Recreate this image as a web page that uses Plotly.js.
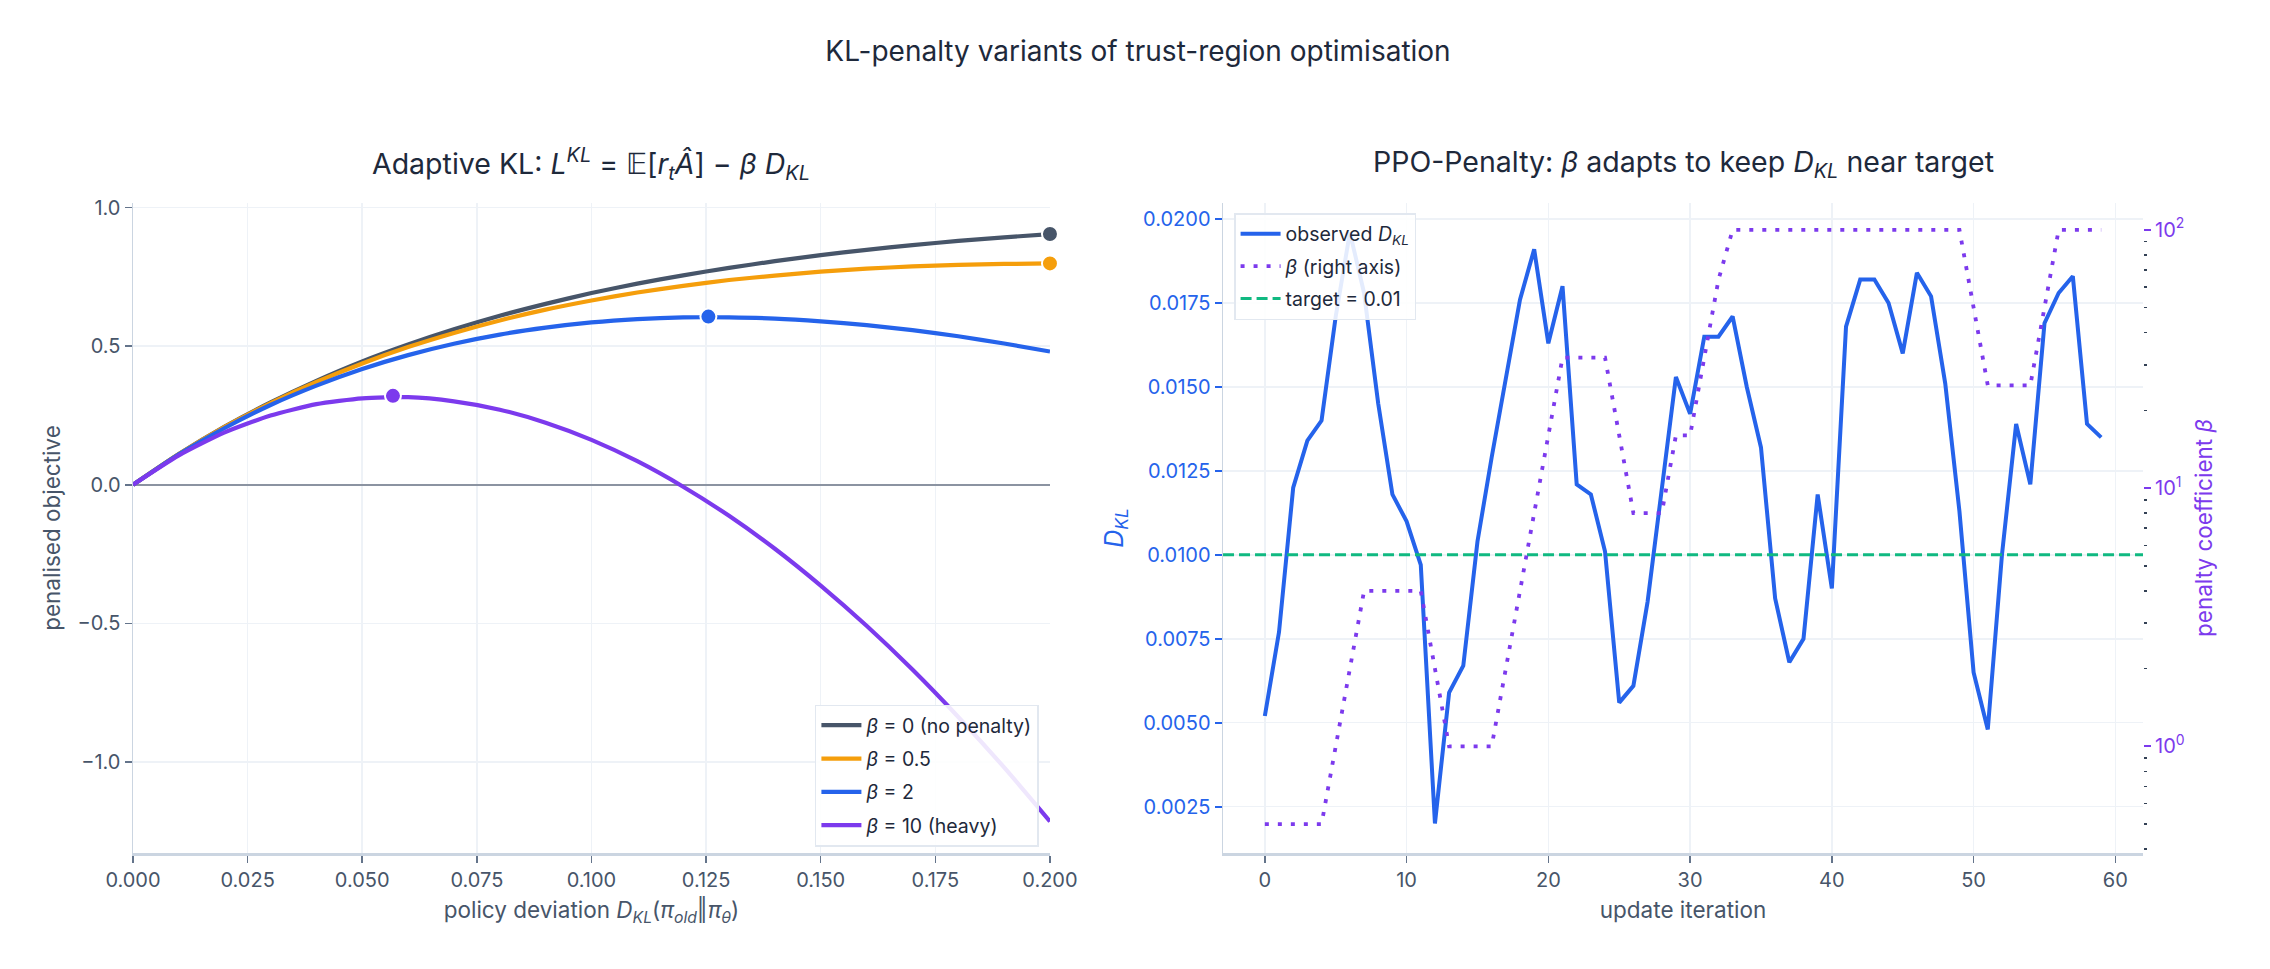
<!DOCTYPE html>
<html>
<head>
<meta charset="utf-8">
<script src="https://cdn.plot.ly/plotly-3.0.1.min.js"></script>
<style>html,body{margin:0;padding:0;background:#fff;}</style>
</head>
<body>
<div id="chart" style="width:2270px;height:969px;"></div>
<script>
// ---- Left panel: penalised objective vs policy deviation ----
const klDev = [0, 0.01, 0.02, 0.03, 0.04, 0.05, 0.06, 0.07, 0.08, 0.09, 0.10,
               0.11, 0.12, 0.13, 0.14, 0.15, 0.16, 0.17, 0.18, 0.19, 0.20];
const objBeta0  = [0, 0.111, 0.210, 0.297, 0.375, 0.445, 0.506, 0.561, 0.610, 0.653, 0.692,
                   0.726, 0.756, 0.783, 0.807, 0.829, 0.848, 0.865, 0.880, 0.893, 0.905];
const objBeta05 = [0, 0.111, 0.209, 0.295, 0.371, 0.438, 0.497, 0.548, 0.593, 0.632, 0.665,
                   0.694, 0.718, 0.739, 0.755, 0.769, 0.780, 0.788, 0.794, 0.797, 0.799];
const objBeta2  = [0, 0.110, 0.205, 0.288, 0.358, 0.418, 0.468, 0.509, 0.542, 0.567, 0.586,
                   0.598, 0.604, 0.604, 0.600, 0.590, 0.576, 0.558, 0.536, 0.510, 0.481];
const objBeta10 = [0, 0.106, 0.189, 0.250, 0.291, 0.312, 0.316, 0.301, 0.271, 0.224, 0.162,
                   0.085, -0.007, -0.112, -0.231, -0.364, -0.509, -0.667, -0.838, -1.020, -1.215];
const betaNames = ['<i>β</i> = 0 (no penalty)', '<i>β</i> = 0.5', '<i>β</i> = 2', '<i>β</i> = 10 (heavy)'];
const betaColors = ['#475569', '#f59e0b', '#2563eb', '#7c3aed'];
const peakX = [0.2, 0.2, 0.1255, 0.0567];
const peakY = [0.905, 0.799, 0.607, 0.321];

// ---- Right panel: PPO-Penalty adaptation ----
const iters = [0,1,2,3,4,5,6,7,8,9,10,11,12,13,14,15,16,17,18,19,20,21,22,23,24,25,26,27,28,29,
               30,31,32,33,34,35,36,37,38,39,40,41,42,43,44,45,46,47,48,49,50,51,52,53,54,55,56,57,58,59];
const observedKL = [0.0052, 0.0077, 0.0120, 0.0134, 0.0140, 0.0171, 0.0196, 0.0178, 0.0145, 0.0118,
                    0.0110, 0.0097, 0.0020, 0.0059, 0.0067, 0.0104, 0.0129, 0.0153, 0.0176, 0.0191,
                    0.0163, 0.0180, 0.0121, 0.0118, 0.0101, 0.0056, 0.0061, 0.0086, 0.0120, 0.0153,
                    0.0142, 0.0165, 0.0165, 0.0171, 0.0150, 0.0132, 0.0087, 0.0068, 0.0075, 0.0118,
                    0.0090, 0.0168, 0.0182, 0.0182, 0.0175, 0.0160, 0.0184, 0.0177, 0.0151, 0.0113,
                    0.0065, 0.0048, 0.0100, 0.0139, 0.0121, 0.0169, 0.0178, 0.0183, 0.0139, 0.0135];
const betaSeries = [0.5, 0.5, 0.5, 0.5, 0.5, 1, 2, 4, 4, 4,
                    4, 4, 2, 1, 1, 1, 1, 2, 4, 8,
                    16, 32, 32, 32, 32, 16, 8, 8, 8, 16,
                    16, 32, 64, 100, 100, 100, 100, 100, 100, 100,
                    100, 100, 100, 100, 100, 100, 100, 100, 100, 100,
                    50, 25, 25, 25, 25, 50, 100, 100, 100, 100];
const targetKL = 0.01;
const iterRange = [-2.95, 61.95];
const betaTicks = [1, 10, 100];
const betaTickText = ['10<sup>0</sup>', '10<sup>1</sup>', '10<sup>2</sup>'];

const FONT = 'Inter, "Liberation Sans", Arial, sans-serif';
const TXT = '#475569';
const GRID = '#eef2f7';
const AXLINE = '#cbd5e1';
const BLUE = '#2563eb', PURPLE = '#7c3aed', GREEN = '#10b981';

const traces = [];
const curves = [objBeta0, objBeta05, objBeta2, objBeta10];
curves.forEach((ys, i) => {
  traces.push({
    x: klDev, y: ys, type: 'scatter', mode: 'lines', name: betaNames[i],
    legendgroup: 'b' + i,
    line: {color: betaColors[i], width: 4.2, shape: 'spline', smoothing: 0.6},
    xaxis: 'x', yaxis: 'y', legend: 'legend'
  });
});
curves.forEach((ys, i) => {
  traces.push({
    x: [peakX[i]], y: [peakY[i]], type: 'scatter', mode: 'markers', showlegend: false,
    cliponaxis: false, legendgroup: 'b' + i,
    marker: {color: betaColors[i], size: 16, line: {color: '#ffffff', width: 2}},
    xaxis: 'x', yaxis: 'y'
  });
});
traces.push({
  x: iters, y: observedKL, type: 'scatter', mode: 'lines',
  name: 'observed <i>D</i><sub><i>KL</i></sub>', legendgroup: 'r0',
  line: {color: BLUE, width: 4}, xaxis: 'x2', yaxis: 'y2', legend: 'legend2'
});
traces.push({
  x: iters, y: betaSeries, type: 'scatter', mode: 'lines',
  name: '<i>β</i> (right axis)', legendgroup: 'r1',
  line: {color: PURPLE, width: 3.8, dash: '4px,9px'}, xaxis: 'x2', yaxis: 'y3', legend: 'legend2'
});
traces.push({
  x: iterRange, y: [targetKL, targetKL], type: 'scatter', mode: 'lines',
  name: 'target = 0.01', legendgroup: 'r2',
  line: {color: GREEN, width: 3, dash: '11px,5px'}, xaxis: 'x2', yaxis: 'y2', legend: 'legend2'
});

const TICK = 20, AXT = 22.5, LEG = 19.5;
const tickFont = {family: FONT, size: TICK, color: TXT};
const layout = {
  width: 2270, height: 969,
  margin: {l: 133, r: 127, t: 203, b: 115.5, pad: 0},
  paper_bgcolor: '#ffffff', plot_bgcolor: '#ffffff',
  font: {family: FONT, size: TICK, color: TXT},
  showlegend: true,
  title: {text: 'KL-penalty variants of trust-region optimisation',
          x: 0.5, xanchor: 'center', xref: 'paper', y: 1 - 51 / 969, yanchor: 'middle',
          font: {family: FONT, size: 28, color: '#1e293b'}},
  annotations: [
    {text: 'Adaptive KL: <i>L</i><sup><i>KL</i></sup> = 𝔼[<i>r</i><sub><i>t</i></sub><i>Â</i>] − <i>β D</i><sub><i>KL</i></sub>',
     xref: 'paper', yref: 'paper', x: 0.2281, y: 1.06, xanchor: 'center', yanchor: 'middle',
     showarrow: false, font: {family: FONT, size: 28.5, color: '#1e293b'}},
    {text: 'PPO-Penalty: <i>β</i> adapts to keep <i>D</i><sub><i>KL</i></sub> near target',
     xref: 'paper', yref: 'paper', x: 0.7712, y: 1.06, xanchor: 'center', yanchor: 'middle',
     showarrow: false, font: {family: FONT, size: 28.5, color: '#1e293b'}}
  ],
  xaxis: {
    domain: [0, 0.4562], range: [0, 0.2], anchor: 'y',
    tick0: 0, dtick: 0.025, tickformat: '.3f',
    ticks: 'outside', ticklen: 7, tickwidth: 1.5, tickcolor: '#64748b',
    showline: true, linecolor: AXLINE, linewidth: 3,
    showgrid: true, gridcolor: GRID, gridwidth: 1.5, zeroline: false,
    tickfont: tickFont,
    title: {text: 'policy deviation <i>D</i><sub><i>KL</i></sub>(<i>π</i><sub><i>old</i></sub>‖<i>π</i><sub><i>θ</i></sub>)',
            font: {family: FONT, size: AXT, color: TXT}, standoff: 12}
  },
  yaxis: {
    domain: [0, 1], range: [-1.329, 1.017], anchor: 'x',
    tick0: 0, dtick: 0.5, tickformat: '.1f',
    ticks: 'outside', ticklen: 7, tickwidth: 1.5, tickcolor: '#64748b',
    showline: true, linecolor: AXLINE, linewidth: 1.5,
    showgrid: true, gridcolor: GRID, gridwidth: 1.5,
    zeroline: true, zerolinecolor: '#8b93a1', zerolinewidth: 1.6,
    tickfont: tickFont,
    title: {text: 'penalised objective', font: {family: FONT, size: AXT, color: TXT}, standoff: 10}
  },
  xaxis2: {
    domain: [0.5423, 1], range: iterRange, anchor: 'y2',
    tick0: 0, dtick: 10,
    ticks: 'outside', ticklen: 7, tickwidth: 1.5, tickcolor: '#64748b',
    showline: true, linecolor: AXLINE, linewidth: 3,
    showgrid: true, gridcolor: GRID, gridwidth: 1.5, zeroline: false,
    tickfont: tickFont,
    title: {text: 'update iteration', font: {family: FONT, size: AXT, color: TXT}, standoff: 12}
  },
  yaxis2: {
    domain: [0, 1], range: [0.00112, 0.02048], anchor: 'x2',
    tick0: 0, dtick: 0.0025, tickformat: '.4f',
    ticks: 'outside', ticklen: 7, tickwidth: 2, tickcolor: BLUE,
    showline: true, linecolor: AXLINE, linewidth: 1.5,
    showgrid: true, gridcolor: GRID, gridwidth: 1.5, zeroline: false,
    tickfont: {family: FONT, size: TICK, color: BLUE},
    title: {text: '<i>D</i><sub><i>KL</i></sub>', font: {family: FONT, size: 25, color: BLUE}, standoff: 12}
  },
  yaxis3: {
    overlaying: 'y2', side: 'right', anchor: 'x2', type: 'log',
    range: [-0.413, 2.104],
    tickmode: 'array', tickvals: betaTicks, ticktext: betaTickText,
    ticks: 'outside', ticklen: 7, tickwidth: 2, tickcolor: PURPLE,
    minor: {dtick: 'D1', ticks: 'outside', ticklen: 3, tickwidth: 1.5, tickcolor: '#334155', showgrid: false},
    showline: false, showgrid: false, zeroline: false,
    tickfont: {family: FONT, size: TICK, color: PURPLE},
    title: {text: 'penalty coefficient <i>β</i>', font: {family: FONT, size: AXT, color: PURPLE}, standoff: 12}
  },
  legend: {
    x: 0.4507, y: 0.01, xanchor: 'right', yanchor: 'bottom', xref: 'paper', yref: 'paper',
    bgcolor: 'rgba(255,255,255,0.88)', bordercolor: '#e2e8f0', borderwidth: 1.5,
    font: {family: FONT, size: LEG, color: '#1e293b'}, traceorder: 'grouped', tracegroupgap: 5, itemwidth: 40
  },
  legend2: {
    x: 0.5478, y: 0.9846, xanchor: 'left', yanchor: 'top', xref: 'paper', yref: 'paper',
    bgcolor: 'rgba(255,255,255,0.88)', bordercolor: '#e2e8f0', borderwidth: 1.5,
    font: {family: FONT, size: LEG, color: '#1e293b'}, traceorder: 'grouped', tracegroupgap: 4, itemwidth: 40
  }
};

Plotly.newPlot('chart', traces, layout, {displayModeBar: false, staticPlot: true});
</script>
</body>
</html>
